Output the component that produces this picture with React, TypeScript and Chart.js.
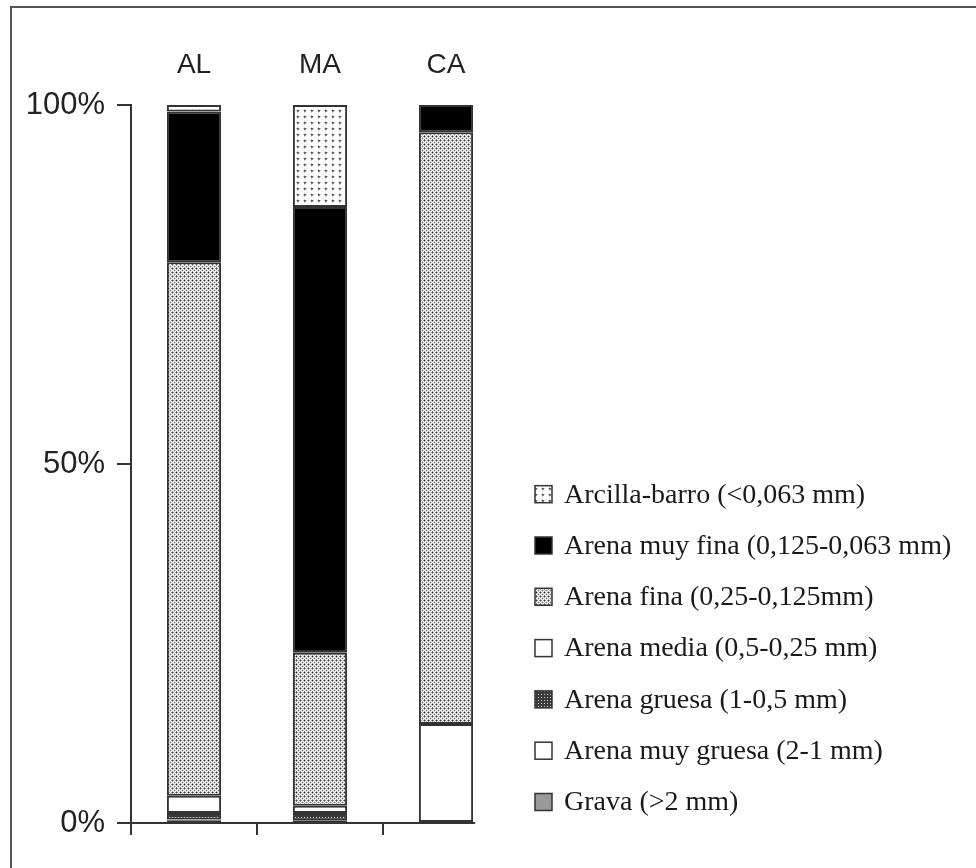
import React, { useEffect, useRef } from 'react';
import { Chart, registerables } from 'chart.js';

Chart.register(...registerables);

// ---- data (percent, stacked bottom -> top) ----
const categories = ['AL', 'MA', 'CA'];
const yTickValues = [0, 50, 100];
const yTickLabels = ['0%', '50%', '100%'];

const labelGrava = 'Grava (>2 mm)';
const labelMuyGruesa = 'Arena muy gruesa (2-1 mm)';
const labelGruesa = 'Arena gruesa (1-0,5 mm)';
const labelMedia = 'Arena media (0,5-0,25 mm)';
const labelFina = 'Arena fina (0,25-0,125mm)';
const labelMuyFina = 'Arena muy fina (0,125-0,063 mm)';
const labelArcilla = 'Arcilla-barro (<0,063 mm)';

const grava = [0.3, 0.3, 0];
const arenaMuyGruesa = [0.2, 0, 0];
const arenaGruesa = [0.9, 1.1, 0];
const arenaMedia = [2.4, 1.0, 13.8];
const arenaFina = [74.3, 21.3, 82.4];
const arenaMuyFina = [21.0, 62.1, 3.8];
const arcillaBarro = [0.9, 14.2, 0];

// legend layout
const LEGEND_GAP_X = 26;
const LEGEND_BOX = 17;
const LEGEND_TEXT_GAP = 12;
const LEGEND_STEP = 51.3;
const LEGEND_BOTTOM_OFFSET = 21;
const LEGEND_FONT = '28px "Liberation Serif", "Times New Roman", serif';

function makePattern(w: number, h: number, bg: string, dots: [number, number, string][]) {
  const c = document.createElement('canvas');
  c.width = w;
  c.height = h;
  const g = c.getContext('2d')!;
  g.fillStyle = bg;
  g.fillRect(0, 0, w, h);
  for (const [x, y, col] of dots) {
    g.fillStyle = col;
    g.fillRect(x, y, 1, 1);
  }
  return g.createPattern(c, 'repeat')!;
}

const axisLinePlugin = {
  id: 'axisLine',
  afterDraw(chart: any) {
    const metas = chart.getSortedVisibleDatasetMetas();
    let right = chart.chartArea.right;
    if (metas.length) {
      const els = metas[metas.length - 1].data;
      const el = els[els.length - 1];
      if (el) right = el.x + el.width / 2 + 2;
    }
    const { ctx, chartArea } = chart;
    ctx.save();
    ctx.strokeStyle = '#333';
    ctx.lineWidth = 2;
    ctx.beginPath();
    ctx.moveTo(chartArea.left - 1, chartArea.bottom);
    ctx.lineTo(right, chartArea.bottom);
    ctx.stroke();
    ctx.restore();
  },
};

const sideLegendPlugin = {
  id: 'sideLegend',
  afterDraw(chart: any) {
    const { ctx, chartArea } = chart;
    const items = chart.data.datasets.slice().reverse();
    const n = items.length;
    const x0 = chartArea.right + LEGEND_GAP_X;
    ctx.save();
    ctx.font = LEGEND_FONT;
    ctx.textBaseline = 'middle';
    ctx.textAlign = 'left';
    items.forEach((ds: any, i: number) => {
      const cy = chartArea.bottom - LEGEND_BOTTOM_OFFSET - (n - 1 - i) * LEGEND_STEP;
      const by = cy - LEGEND_BOX / 2;
      ctx.fillStyle = ds.backgroundColor;
      ctx.fillRect(x0, by, LEGEND_BOX, LEGEND_BOX);
      ctx.strokeStyle = '#333';
      ctx.lineWidth = 1.5;
      ctx.strokeRect(x0, by, LEGEND_BOX, LEGEND_BOX);
      ctx.fillStyle = '#1a1a1a';
      ctx.fillText(ds.label, x0 + LEGEND_BOX + LEGEND_TEXT_GAP, cy + 1);
    });
    ctx.restore();
  },
};

export default function App() {
  const ref = useRef<HTMLCanvasElement | null>(null);

  useEffect(() => {
    if (!ref.current) return;
    const finaPat = makePattern(4, 4, '#ffffff', [
      [0, 0, '#333'], [1, 0, '#999'], [3, 0, '#999'], [0, 1, '#999'], [0, 3, '#999'],
      [2, 2, '#777'], [1, 2, '#ccc'], [3, 2, '#ccc'], [2, 1, '#ccc'], [2, 3, '#ccc'],
    ]);
    const arcillaPat = makePattern(7, 6, '#ffffff', [
      [3, 2, '#555'], [4, 2, '#666'], [3, 3, '#777'], [4, 3, '#888'],
      [2, 2, '#c0c0c0'], [5, 2, '#c0c0c0'], [3, 1, '#c8c8c8'], [3, 4, '#c8c8c8'],
    ]);
    const gruesaPat = makePattern(3, 3, '#3a3a3a', [[1, 1, '#cfcfcf']]);

    const common = { borderColor: '#333', borderWidth: 2, borderSkipped: false as const };
    const chart = new Chart(ref.current, {
      type: 'bar',
      data: {
        labels: categories,
        datasets: [
          { label: labelGrava, data: grava, backgroundColor: '#999999', ...common },
          { label: labelMuyGruesa, data: arenaMuyGruesa, backgroundColor: '#ffffff', ...common },
          { label: labelGruesa, data: arenaGruesa, backgroundColor: gruesaPat, ...common },
          { label: labelMedia, data: arenaMedia, backgroundColor: '#ffffff', ...common },
          { label: labelFina, data: arenaFina, backgroundColor: finaPat, ...common },
          { label: labelMuyFina, data: arenaMuyFina, backgroundColor: '#000000', ...common },
          { label: labelArcilla, data: arcillaBarro, backgroundColor: arcillaPat, ...common },
        ],
      },
      options: {
        responsive: false,
        animation: false,
        devicePixelRatio: 1,
        categoryPercentage: 1,
        barPercentage: 0.43,
        layout: { padding: { left: 0, right: 467, top: 20, bottom: 30 } },
        plugins: {
          tooltip: { enabled: false },
          legend: { display: false },
        },
        scales: {
          x: {
            type: 'category',
            position: 'bottom',
            stacked: true,
            offset: true,
            afterFit: (s: any) => { s.height = 15; },
            border: { display: false },
            grid: {
              offset: true,
              drawOnChartArea: false,
              drawTicks: true,
              tickLength: 12,
              lineWidth: 2,
              color: (c: any) => (c.type === 'tick' ? '#333' : 'rgba(0,0,0,0)'),
            },
            ticks: { display: false },
          },
          x2: {
            type: 'category',
            position: 'top',
            labels: categories,
            offset: true,
            afterFit: (s: any) => { s.height = 85; },
            border: { display: false },
            grid: { display: false, drawTicks: false },
            ticks: {
              padding: 23,
              color: '#222',
              font: { family: '"Liberation Sans", Arial, sans-serif', size: 28 },
            },
          },
          y: {
            type: 'linear',
            stacked: true,
            min: 0,
            max: 100,
            afterFit: (s: any) => { s.width = 131; },
            afterBuildTicks: (s: any) => { s.ticks = yTickValues.map((v) => ({ value: v })); },
            border: { display: true, color: '#333', width: 2 },
            grid: { drawOnChartArea: false, drawTicks: true, tickLength: 14, color: '#333', lineWidth: 2 },
            ticks: {
              padding: 12,
              color: '#222',
              font: { family: '"Liberation Sans", Arial, sans-serif', size: 31 },
              callback: (v: any) => {
                const i = yTickValues.indexOf(Number(v));
                return i >= 0 ? yTickLabels[i] : '';
              },
            },
          },
        },
      },
      plugins: [axisLinePlugin, sideLegendPlugin],
    });
    return () => chart.destroy();
  }, []);

  return (
    <div style={{ position: 'absolute', left: 0, top: 0, width: 976, height: 868, background: '#fff', overflow: 'hidden' }}>
      <div
        style={{
          position: 'absolute', left: 10, top: 6, width: 970, height: 870,
          borderLeft: '2px solid #555', borderTop: '2px solid #555',
        }}
      />
      <canvas ref={ref} width={976} height={868} style={{ position: 'absolute', left: 0, top: 0 }} />
    </div>
  );
}
